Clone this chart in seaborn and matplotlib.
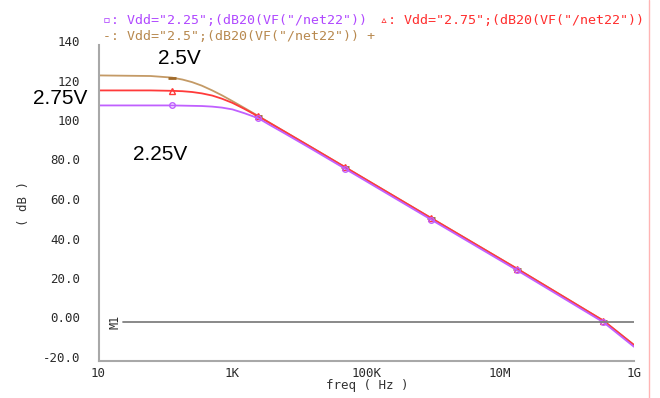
import numpy as np
import pandas as pd
import matplotlib
matplotlib.use("Agg")
import matplotlib.pyplot as plt
import matplotlib.ticker as mticker
import matplotlib.transforms as mtransforms
from matplotlib.lines import Line2D
import seaborn as sns

# ---- data ----
freq = [10, 60, 125, 180, 250, 350, 500, 700, 1000, 1500, 2450, 3500, 6000, 15000,
        48000, 930000, 1.8e7, 3.5e8, 1e9]
db_225 = [109.4, 109.4, 109.4, 109.3, 109.2, 109.1, 108.8, 108.3, 107.4, 105.5, 102.9, 99.8,
          95.3, 87.5, 77.4, 51.6, 25.9, -0.4, -12.8]
db_250 = [124.6, 124.3, 123.5, 122.5, 121.2, 119.4, 117.0, 114.5, 111.6, 108.2, 104.0, 100.9,
          96.2, 88.3, 78.2, 52.4, 26.7, 0.4, -11.9]
db_275 = [117.0, 117.0, 116.8, 116.6, 116.2, 115.5, 114.4, 112.8, 110.7, 107.7, 103.8, 100.8,
          96.2, 88.3, 78.2, 52.4, 26.7, 0.4, -11.9]
marker_idx = [2, 10, 14, 15, 16, 17]

ytick_vals = [-20, 0, 20, 40, 60, 80, 100, 120, 140]
ytick_labels = ["-20.0", "0.00", "20.0", "40.0", "60.0", "80.0", "100", "120", "140"]
xtick_vals = [10, 1e3, 1e5, 1e7, 1e9]
xtick_labels = ["10", "1K", "100K", "10M", "1G"]

legend_225 = '\u25ab: Vdd="2.25";(dB20(VF("/net22"))'
legend_275 = '\u25b5: Vdd="2.75";(dB20(VF("/net22"))'
legend_250 = '-: Vdd="2.5";(dB20(VF("/net22")) +'

c_purple = "#c060ff"
c_red = "#ff3a3a"
c_brown = "#c49a66"
t_purple = "#b048ff"
t_red = "#ff2e2e"
t_brown = "#b8894f"

sns.set_theme(style="white")
mono = ["DejaVu Sans Mono", "DejaVu Sans"]

W, H = 660, 398
fig = plt.figure(figsize=(W / 100, H / 100), dpi=100)
ax = fig.add_axes([98.5 / W, 1 - 361 / H, (634 - 98.5) / W, (361 - 45) / H])

df = pd.DataFrame({"freq": freq, "v225": db_225, "v250": db_250, "v275": db_275})

sns.lineplot(data=df, x="freq", y="v250", ax=ax, color=c_brown, lw=1.3,
             marker="_", markevery=marker_idx, ms=6, mew=2.0, mec="#a06a2a", estimator=None)
sns.lineplot(data=df, x="freq", y="v275", ax=ax, color=c_red, lw=1.3,
             marker="^", markevery=marker_idx, ms=4.5, mfc="none", mew=1.0, mec=c_red, estimator=None)
sns.lineplot(data=df, x="freq", y="v225", ax=ax, color=c_purple, lw=1.3,
             marker="o", markevery=marker_idx, ms=4, mfc="none", mew=1.0, mec=c_purple, estimator=None)

ax.set_xscale("log")
ax.set_xlim(10, 1e9)
ax.set_ylim(-20, 140)

# M1 marker line at 0 dB
ax.add_line(Line2D([0.045, 1.0], [0, 0], transform=ax.get_yaxis_transform(),
                   color="#808080", lw=1.3))
ax.text(0.03, 0, "M1", transform=ax.get_yaxis_transform(), rotation=90,
        ha="center", va="center", fontsize=8.5, family=mono, color="#303030")

for s in ["top", "right"]:
    ax.spines[s].set_visible(False)
for s in ["left", "bottom"]:
    ax.spines[s].set_color("#a8a8a8")
    ax.spines[s].set_linewidth(1.5)

ax.set_yticks(ytick_vals)
ax.set_yticklabels(ytick_labels)
ax.yaxis.set_minor_locator(mticker.MultipleLocator(4))
ax.set_xticks(xtick_vals)
ax.set_xticklabels(xtick_labels)
ax.xaxis.set_minor_locator(mticker.NullLocator())

ax.tick_params(axis="y", which="major", direction="in", length=4, width=1.3,
               color="#303030", pad=13, labelsize=9, labelcolor="#2a2a2a")
ax.tick_params(axis="y", which="minor", direction="in", length=2.5, width=1,
               color="#909090")
ax.tick_params(axis="x", which="major", direction="in", length=3, width=1.2,
               color="#303030", pad=4, labelsize=9, labelcolor="#2a2a2a")
for lab in ax.get_yticklabels() + ax.get_xticklabels():
    lab.set_family(mono)
offset = mtransforms.ScaledTranslation(0, 4 / 100, fig.dpi_scale_trans)
for lab in ax.get_yticklabels():
    lab.set_transform(lab.get_transform() + offset)

ax.set_xlabel("")
ax.set_ylabel("")
fig.text(367 / W, 1 - 385 / H, "freq ( Hz )", ha="center", va="center",
         fontsize=9, family=mono, color="#333333")
fig.text(24 / W, 1 - 203 / H, "( dB )", ha="center", va="center", rotation=90,
         fontsize=9, family=mono, color="#333333")

# legend texts
fig.text(103 / W, 1 - 20 / H, legend_225, ha="left", va="center", fontsize=9.5,
         family=mono, color=t_purple)
fig.text(380 / W, 1 - 20 / H, legend_275, ha="left", va="center", fontsize=9.6,
         family=mono, color=t_red)
fig.text(103 / W, 1 - 37 / H, legend_250, ha="left", va="center", fontsize=9.5,
         family=mono, color=t_brown)

# annotations
ann_font = ["Liberation Sans", "DejaVu Sans"]
fig.text(158 / W, 1 - 58 / H, "2.5V", ha="left", va="center", fontsize=15, family=ann_font, color="black")
fig.text(33 / W, 1 - 99 / H, "2.75V", ha="left", va="center", fontsize=15, family=ann_font, color="black")
fig.text(133 / W, 1 - 154 / H, "2.25V", ha="left", va="center", fontsize=15, family=ann_font, color="black")

# pink frame line at right
fig.add_artist(Line2D([649 / W, 649 / W], [0, 1], transform=fig.transFigure,
                      color="#ffb4b4", lw=1.0))

fig.savefig("out.png", dpi=100)
